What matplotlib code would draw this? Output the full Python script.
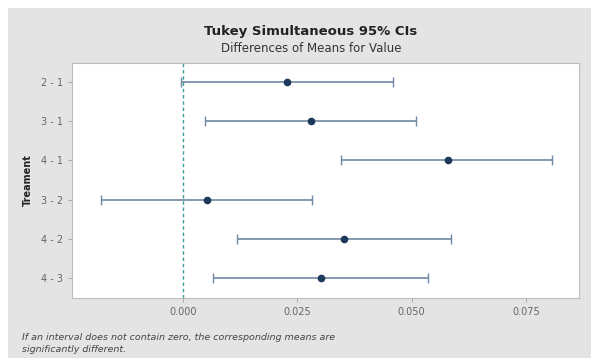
import matplotlib
matplotlib.use("Agg")
import matplotlib.pyplot as plt
from matplotlib.patches import Rectangle

# --------------------------
# Data
# --------------------------
pairs = ["2 - 1", "3 - 1", "4 - 1", "3 - 2", "4 - 2", "4 - 3"]
centers = [0.0228, 0.0279, 0.0579, 0.0052, 0.0352, 0.0302]
lowers = [-0.0004, 0.0048, 0.0345, -0.0179, 0.0118, 0.0066]
uppers = [0.0460, 0.0510, 0.0808, 0.0283, 0.0586, 0.0535]
xticks = [0.000, 0.025, 0.050, 0.075]
xtick_labels = ["0.000", "0.025", "0.050", "0.075"]

W, H = 591, 358
fig = plt.figure(figsize=(W / 100, H / 100), dpi=100)
fig.patch.set_facecolor("white")
# gray panel behind everything
fig.patches.append(Rectangle((8 / W, 0), 1 - 8 / W, 1 - 8 / H, transform=fig.transFigure,
                             facecolor="#e4e4e4", edgecolor="none", zorder=-10))

ax = fig.add_axes([72 / W, 1 - 298 / H, (579 - 72) / W, (298 - 63) / H])
ax.set_facecolor("white")

ypos = list(range(len(pairs)))
xerr = [[c - lo for c, lo in zip(centers, lowers)], [hi - c for c, hi in zip(centers, uppers)]]
ax.axvline(0, color="#3a9f96", linestyle=(0, (2.5, 2)), linewidth=1.0, zorder=1)
ax.errorbar(centers, ypos, xerr=xerr, fmt="o", color="#1d3a5c", markersize=4.5,
            ecolor="#7088a3", elinewidth=1.2, capsize=3.5, capthick=1.0, zorder=3)

ax.set_xlim(-0.0243, 0.0866)
ax.set_ylim(5.51, -0.485)
ax.set_yticks(ypos)
ax.set_yticklabels(pairs)
ax.set_xticks(xticks)
ax.set_xticklabels(xtick_labels)
ax.tick_params(axis="both", labelsize=7, colors="#a0a0a0", labelcolor="#666666",
               length=3, width=0.6)
for s in ax.spines.values():
    s.set_color("#bcbcbc")
    s.set_linewidth(0.8)

fig.text(28 / W, 1 - 180 / H, "Treament", rotation=90, fontsize=7, fontweight="bold",
         ha="center", va="center", color="#222222")

fig.text(311 / W, 1 - 32 / H, "Tukey Simultaneous 95% CIs", fontsize=9.5, fontweight="bold",
         ha="center", va="center", color="#222222")
fig.text(311 / W, 1 - 49 / H, "Differences of Means for Value", fontsize=8.5,
         ha="center", va="center", color="#333333")

fig.text(22 / W, 1 - 338 / H, "If an interval does not contain zero, the corresponding means are",
         fontsize=6.8, style="italic", ha="left", va="center", color="#444444")
fig.text(22 / W, 1 - 350 / H, "significantly different.",
         fontsize=6.8, style="italic", ha="left", va="center", color="#444444")

fig.savefig("out.png", dpi=100)
